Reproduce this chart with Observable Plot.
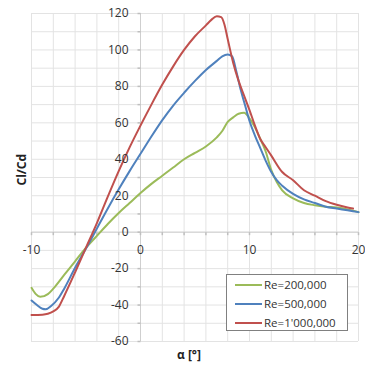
<!DOCTYPE html>
<html>
<head>
<meta charset="utf-8">
<script src="https://cdn.jsdelivr.net/npm/d3@7"></script>
<script src="https://cdn.jsdelivr.net/npm/@observablehq/plot@0.6"></script>
<style>
  body { margin: 0; background: #fff; }
  #wrap { position: relative; width: 365px; height: 366px; overflow: hidden; font-family: "Open Sans", sans-serif; }
  #legend { position: absolute; left: 226px; top: 274px; width: 122px; height: 57px; box-sizing: border-box;
            border: 1px solid #808080; background: #fff; }
  .row { position: absolute; left: 0; height: 19px; display: flex; align-items: center; }
  .sw { width: 27px; height: 2px; margin-left: 8px; margin-right: 2px; }
  .lb { font-size: 11.5px; color: #333; white-space: nowrap; }
</style>
</head>
<body>
<div id="wrap"><div id="legend"></div></div>
<script>
// ---- data ----
const seriesNames = ["Re=200,000", "Re=500,000", "Re=1'000,000"];
const seriesColors = ["#9bbb59", "#4f81bd", "#c0504d"];

const alpha200 = [-10, -9.6, -9.2, -8.5, -8, -7, -6, -5, -4, -3, -2, -1, 0, 1, 2, 3, 4, 5, 6, 7, 7.5, 8, 8.5, 9, 9.5, 10, 10.5, 11, 11.5, 12, 12.5, 13, 14, 15, 16, 17, 18, 19, 20];
const clcd200  = [-30.5, -34, -35.5, -34, -31, -23.5, -16, -8.5, -2, 4.5, 10.5, 16, 21.5, 26.5, 31, 35.5, 40, 43.5, 47, 52, 55.5, 60.5, 63, 65, 65.5, 62.5, 57.5, 51, 44, 34, 27.5, 23, 18.5, 16, 14.8, 14, 13.5, 12.5, 11];

const alpha500 = [-10, -9.5, -9, -8.7, -8.2, -7.5, -7, -6, -5, -4, -3, -2, -1, 0, 1, 2, 3, 4, 5, 6, 7, 7.5, 8, 8.4, 8.8, 9.2, 9.6, 10, 10.5, 11, 11.5, 12, 12.5, 13, 14, 15, 16, 17, 18, 19, 20];
const clcd500  = [-37.5, -40, -42, -42.3, -40.5, -36, -31, -19.5, -9, 2, 13, 23.5, 33.5, 43, 52.5, 61.5, 69.5, 76.5, 83, 89, 94, 96.5, 97.5, 96.5, 88, 78, 69.5, 61, 53, 46, 39, 33, 28.5, 25.5, 21, 18, 16, 14, 13, 12, 11];

const alpha1000 = [-10, -9, -8.5, -8, -7.5, -7, -6, -5, -4, -3, -2, -1, 0, 1, 2, 3, 4, 5, 6, 6.5, 7, 7.4, 7.7, 8, 8.5, 9, 9.5, 10, 10.5, 11, 11.5, 12, 13, 14, 15, 16, 17, 18, 19, 19.5];
const clcd1000  = [-45.5, -45.3, -44.8, -43.5, -41, -35, -22, -8.5, 5, 19.5, 33.5, 46.5, 58.5, 70, 81, 91, 100, 107.5, 113.5, 116.5, 118.5, 118, 114, 106, 93, 83, 75, 67, 58.5, 51, 46.5, 42, 33, 28.5, 23, 20, 17, 15, 13.5, 13];

const xTickLabels = [-10, 0, 10, 20];
const yTickLabels = [-60, -40, -20, 0, 20, 40, 60, 80, 100, 120];
const xGrid = d3.range(-10, 20.001, 2);
const yGrid = d3.range(-60, 120.001, 10);

// ---- build table ----
const alphas = [alpha200, alpha500, alpha1000];
const values = [clcd200, clcd500, clcd1000];
const rows = [];
seriesNames.forEach((name, s) => {
  alphas[s].forEach((a, i) => rows.push({series: name, alpha: a, v: values[s][i]}));
});

const tickDown = {draw(ctx) { ctx.moveTo(0, 0); ctx.lineTo(0, 3); }};
const tickLeft = {draw(ctx) { ctx.moveTo(0, 0); ctx.lineTo(-3, 0); }};

const chart = Plot.plot({
  width: 365,
  height: 366,
  marginLeft: 31,
  marginRight: 7,
  marginTop: 13,
  marginBottom: 25,
  x: {domain: [-10, 20], axis: null},
  y: {domain: [-60, 120], axis: null},
  color: {domain: seriesNames, range: seriesColors},
  style: {fontFamily: "Open Sans, sans-serif", fontSize: "12px", color: "#333", background: "white", overflow: "visible"},
  marks: [
    Plot.ruleX(xGrid, {stroke: "#e3e3e3", strokeWidth: 1}),
    Plot.ruleY(yGrid, {stroke: "#e3e3e3", strokeWidth: 1}),
    Plot.ruleX([0], {stroke: "#cfcfcf", strokeWidth: 1}),
    Plot.ruleY([0], {stroke: "#cfcfcf", strokeWidth: 1}),
    Plot.dot(xGrid, {x: d => d, y: 0, symbol: tickDown, stroke: "#bfbfbf", fill: "none", r: 3}),
    Plot.dot(yGrid, {x: 0, y: d => d, symbol: tickLeft, stroke: "#bfbfbf", fill: "none", r: 3}),
    Plot.line(rows, {x: "alpha", y: "v", z: "series", stroke: "series", strokeWidth: 2, curve: "monotone-x"}),
    Plot.text(xTickLabels, {x: d => d, y: 0, dy: 18, text: d => String(d), fill: "#333"}),
    Plot.text(yTickLabels, {x: 0, y: d => d, dx: -12, textAnchor: "end", text: d => String(d), fill: "#333"}),
    Plot.text(["Cl/Cd"], {frameAnchor: "left", dx: -9, dy: 8, rotate: -90, fontWeight: "bold", fill: "#222", fontSize: 12}),
    Plot.text(["α [°]"], {frameAnchor: "bottom", dx: -6, dy: 17, fontWeight: "bold", fill: "#222", fontSize: 12})
  ]
});

const wrap = document.getElementById("wrap");
wrap.insertBefore(chart, wrap.firstChild);

const legend = document.getElementById("legend");
seriesNames.forEach((name, i) => {
  const row = document.createElement("div");
  row.className = "row";
  row.style.top = (i * 19) + "px";
  const sw = document.createElement("div");
  sw.className = "sw";
  sw.style.background = seriesColors[i];
  const lb = document.createElement("span");
  lb.className = "lb";
  lb.textContent = name;
  row.appendChild(sw);
  row.appendChild(lb);
  legend.appendChild(row);
});
</script>
</body>
</html>
